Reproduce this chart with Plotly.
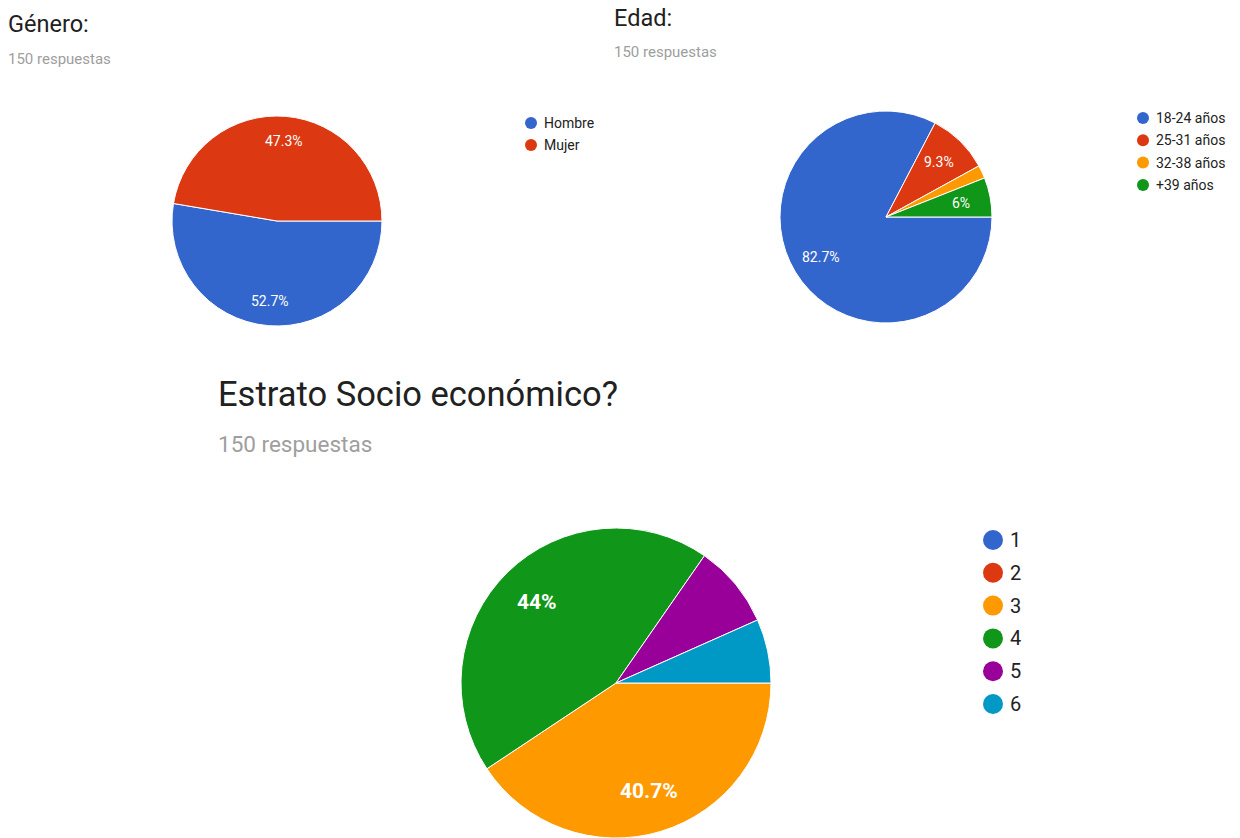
import math
import plotly.graph_objects as go

W, H = 1240, 838

# Survey answers (150 respondents each)
genero_labels = ["Hombre", "Mujer"]
genero_values = [79, 71]

edad_labels = ["18-24 años", "25-31 años", "32-38 años", "+39 años"]
edad_values = [124, 14, 3, 9]

estrato_labels = ["1", "2", "3", "4", "5", "6"]
estrato_values = [0, 0, 61, 66, 13, 10]

palette = ["#3366CC", "#DC3912", "#FF9900", "#109618", "#990099", "#0099C6"]

FONT = "Roboto, Arial, sans-serif"


def px_x(x):
    return x / W


def px_y(y):
    return 1 - y / H


fig = go.Figure()
annotations = []
shapes = []


def add_pie(labels, values, box, label_frac, label_size, label_bold, min_pct,
            legend_xy, legend_step, legend_dot, legend_size):
    x0, y0, x1, y1 = box
    fig.add_trace(go.Pie(
        labels=labels,
        values=values,
        sort=False,
        direction="clockwise",
        rotation=90,
        textinfo="none",
        hoverinfo="label+percent",
        marker=dict(colors=palette[:len(labels)], line=dict(color="white", width=1)),
        domain=dict(x=[px_x(x0), px_x(x1)], y=[px_y(y1), px_y(y0)]),
        showlegend=False,
    ))
    cx, cy = (x0 + x1) / 2, (y0 + y1) / 2
    r = min(x1 - x0, y1 - y0) / 2
    total = sum(values)
    start = 90.0
    for v in values:
        span = 360.0 * v / total
        pct = 100.0 * v / total
        if pct >= min_pct:
            mid = math.radians(start + span / 2)
            tx = cx + label_frac * r * math.sin(mid)
            ty = cy - label_frac * r * math.cos(mid)
            txt = f"{pct:.1f}".rstrip("0").rstrip(".") + "%"
            if label_bold:
                txt = f"<b>{txt}</b>"
            annotations.append(dict(
                x=px_x(tx), y=px_y(ty), xref="paper", yref="paper",
                text=txt, showarrow=False, xanchor="center", yanchor="middle",
                font=dict(family=FONT, size=label_size, color="white"),
            ))
        start += span
    # legend: colored dots with the category names
    lx, ly = legend_xy
    for i, lab in enumerate(labels):
        yy = ly + i * legend_step
        shapes.append(dict(
            type="circle", xref="paper", yref="paper",
            x0=px_x(lx - legend_dot), x1=px_x(lx + legend_dot),
            y0=px_y(yy + legend_dot), y1=px_y(yy - legend_dot),
            fillcolor=palette[i], line=dict(width=0),
        ))
        annotations.append(dict(
            x=px_x(lx + legend_dot + 5), y=px_y(yy), xref="paper", yref="paper",
            text=lab, showarrow=False, xanchor="left", yanchor="middle",
            font=dict(family=FONT, size=legend_size, color="#222222"),
        ))


add_pie(genero_labels, genero_values, (172, 116, 382, 326), 0.76, 14, False, 5,
        (531, 123), 22, 6, 14)
add_pie(edad_labels, edad_values, (780, 111, 992, 323), 0.72, 14, False, 5,
        (1143, 118), 22.3, 6, 14)
add_pie(estrato_labels, estrato_values, (460, 528, 772, 838), 0.73, 21, True, 10,
        (993, 540), 32.8, 10, 20)


def title(x, y, text, size, color):
    annotations.append(dict(
        x=px_x(x), y=px_y(y), xref="paper", yref="paper", text=text,
        showarrow=False, xanchor="left", yanchor="middle",
        font=dict(family=FONT, size=size, color=color),
    ))


title(6, 24, "Género:", 23.5, "#212121")
title(6, 59, "150 respuestas", 15, "#9e9e9e")
title(612, 18, "Edad:", 23.5, "#212121")
title(612, 52, "150 respuestas", 15, "#9e9e9e")
title(216, 394, "Estrato Socio económico?", 34.5, "#212121")
title(216, 444, "150 respuestas", 22.5, "#9e9e9e")

fig.update_layout(
    width=W, height=H,
    margin=dict(l=0, r=0, t=0, b=0),
    paper_bgcolor="white", plot_bgcolor="white",
    annotations=annotations, shapes=shapes,
    showlegend=False,
)

fig.write_html("out.html")
